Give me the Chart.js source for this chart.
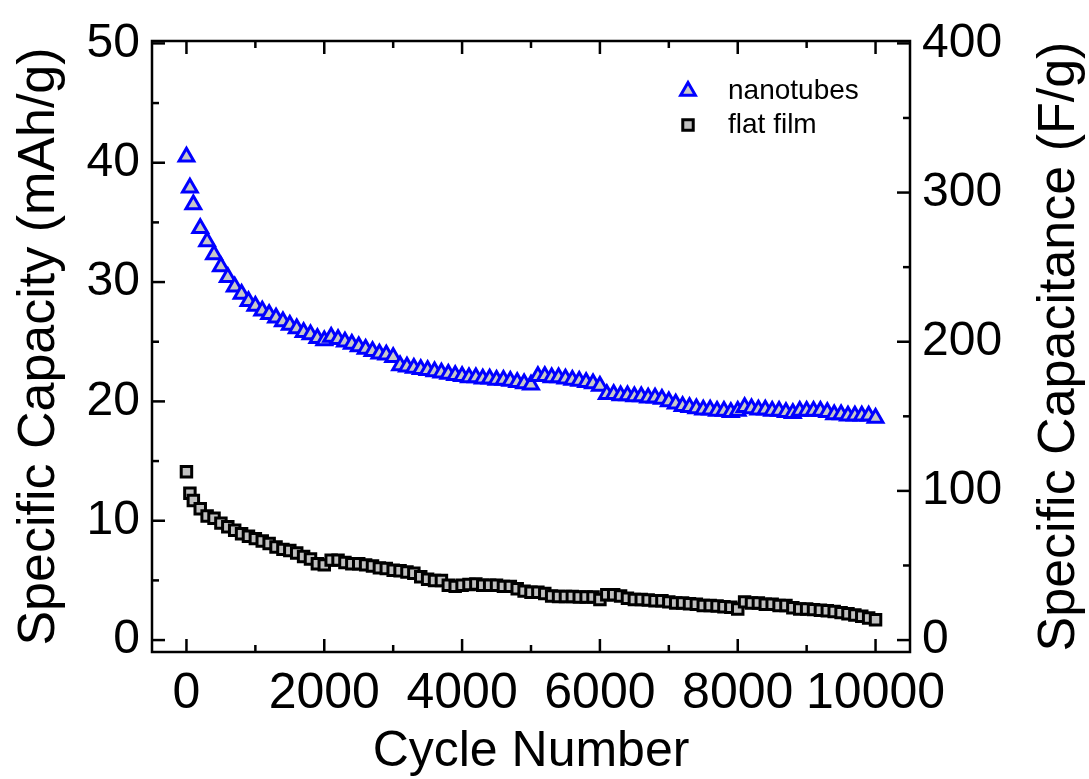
<!DOCTYPE html>
<html>
<head>
<meta charset="utf-8">
<script src="https://cdn.jsdelivr.net/npm/chart.js@4.4.0/dist/chart.umd.min.js"></script>
<style>
  html, body { margin: 0; padding: 0; background: #fff; }
</style>
</head>
<body>
<canvas id="cycleChart" width="1089" height="779"></canvas>
<script>
// cycle life of the two electrodes
var cycles = [0, 50, 100, 200, 300, 400, 500, 600, 700, 800, 900, 1000,
  1100, 1200, 1300, 1400, 1500, 1600, 1700, 1800, 1900, 2000,
  2100, 2200, 2300, 2400, 2500, 2600, 2700, 2800, 2900, 3000,
  3100, 3200, 3300, 3400, 3500, 3600, 3700, 3800, 3900, 4000,
  4100, 4200, 4300, 4400, 4500, 4600, 4700, 4800, 4900, 5000,
  5100, 5200, 5300, 5400, 5500, 5600, 5700, 5800, 5900, 6000,
  6100, 6200, 6300, 6400, 6500, 6600, 6700, 6800, 6900, 7000,
  7100, 7200, 7300, 7400, 7500, 7600, 7700, 7800, 7900, 8000,
  8100, 8200, 8300, 8400, 8500, 8600, 8700, 8800, 8900, 9000,
  9100, 9200, 9300, 9400, 9500, 9600, 9700, 9800, 9900, 10000]

var nanotubes = [40.5, 37.9, 36.5, 34.5, 33.4, 32.3, 31.3, 30.4, 29.6, 29.0, 28.4, 28.0,
  27.6, 27.3, 27.0, 26.7, 26.4, 26.1, 25.8, 25.6, 25.3, 25.1,
  25.4, 25.2, 25.0, 24.8, 24.6, 24.4, 24.2, 24.0, 23.9, 23.7,
  23.0, 22.9, 22.8, 22.7, 22.6, 22.5, 22.4, 22.3, 22.2, 22.1,
  22.0, 22.0, 21.9, 21.9, 21.8, 21.8, 21.7, 21.6, 21.5, 21.4,
  22.1, 22.1, 22.0, 22.0, 21.9, 21.8, 21.7, 21.6, 21.5, 21.3,
  20.6, 20.6, 20.5, 20.5, 20.4, 20.4, 20.3, 20.3, 20.2, 20.0,
  19.8, 19.6, 19.5, 19.4, 19.3, 19.3, 19.2, 19.2, 19.1, 19.2,
  19.5, 19.4, 19.3, 19.3, 19.2, 19.2, 19.1, 19.0, 19.2, 19.2,
  19.2, 19.2, 19.1, 18.9, 18.9, 18.8, 18.8, 18.8, 18.8, 18.6]

var flatFilm = [14.1, 12.3, 11.7, 11.0, 10.4, 10.2, 9.8, 9.5, 9.2, 8.9, 8.7, 8.5,
  8.3, 8.1, 7.8, 7.6, 7.5, 7.3, 7.0, 6.8, 6.4, 6.3,
  6.7, 6.7, 6.5, 6.4, 6.4, 6.3, 6.2, 6.05, 6.0, 5.85,
  5.8, 5.7, 5.6, 5.3, 5.1, 5.0, 5.0, 4.6, 4.5, 4.6,
  4.65, 4.7, 4.6, 4.6, 4.6, 4.5, 4.5, 4.3, 4.1, 4.0,
  4.0, 3.9, 3.7, 3.65, 3.65, 3.65, 3.6, 3.6, 3.6, 3.4,
  3.8, 3.8, 3.7, 3.5, 3.4, 3.4, 3.35, 3.3, 3.3, 3.2,
  3.1, 3.1, 3.05, 3.0, 2.9, 2.9, 2.85, 2.8, 2.75, 2.6,
  3.2, 3.1, 3.1, 3.0, 3.0, 2.9, 2.9, 2.7, 2.6, 2.6,
  2.55, 2.5, 2.45, 2.4, 2.3, 2.2, 2.1, 2.0, 1.85, 1.7]

var cycleTicks = [0, 2000, 4000, 6000, 8000, 10000]
var capacityTicks = [0, 10, 20, 30, 40, 50]
var capacitanceTicks = [0, 100, 200, 300, 400]

var FONT = "'Liberation Sans', Arial, sans-serif"

function toPoints(ys) {
    return cycles.map(function (c, i) { return { x: c, y: ys[i] } })
}

function fixTicks(values) {
    return function (scale) {
        scale.ticks = values.map(function (v) { return { value: v } })
    }
}

function plain(v) { return String(v) }

function line(ctx, x1, y1, x2, y2) {
    ctx.beginPath()
    ctx.moveTo(x1, y1)
    ctx.lineTo(x2, y2)
    ctx.stroke()
}

// box frame with inward ticks, right-hand title and the legend
var frameAndLegend = {
    id: 'frameAndLegend',
    afterDraw: function (chart) {
        var ctx = chart.ctx
        var a = chart.chartArea
        var sx = chart.scales.x, sy = chart.scales.y, sy2 = chart.scales.y2
        ctx.save()
        ctx.strokeStyle = '#000'
        ctx.lineWidth = 2.5
        ctx.strokeRect(a.left, a.top, a.right - a.left, a.bottom - a.top)

        var v, p, len
        for (v = 0; v <= 10000; v += 1000) {
            p = sx.getPixelForValue(v)
            len = v % 2000 === 0 ? 13 : 7
            line(ctx, p, a.bottom, p, a.bottom - len)
            line(ctx, p, a.top, p, a.top + len)
        }
        for (v = 0; v <= 50; v += 5) {
            p = sy.getPixelForValue(v)
            len = v % 10 === 0 ? 13 : 7
            line(ctx, a.left, p, a.left + len, p)
        }
        for (v = 0; v <= 400; v += 50) {
            p = sy2.getPixelForValue(v)
            len = v % 100 === 0 ? 13 : 7
            line(ctx, a.right, p, a.right - len, p)
        }

        ctx.fillStyle = '#000'
        ctx.font = '52px ' + FONT
        ctx.textAlign = 'center'
        ctx.textBaseline = 'middle'
        ctx.save()
        ctx.translate(1060, (a.top + a.bottom) / 2)
        ctx.rotate(-Math.PI / 2)
        ctx.fillText('Specific Capacitance (F/g)', 0, 0)
        ctx.restore()

        // legend entries
        var rows = [[chart.data.datasets[0], 91], [chart.data.datasets[1], 125]]
        ctx.font = '28px ' + FONT
        ctx.textAlign = 'left'
        rows.forEach(function (r) {
            var ds = r[0]
            ctx.fillStyle = ds.backgroundColor
            ctx.strokeStyle = ds.borderColor
            ctx.lineWidth = ds.borderWidth
            Chart.helpers.drawPoint(ctx, { pointStyle: ds.pointStyle, radius: ds.pointRadius, borderWidth: ds.borderWidth }, 688, r[1])
            ctx.fillStyle = '#000'
            ctx.fillText(ds.label, 728, r[1])
        })
        ctx.restore()
    }
}

var ctx = document.getElementById('cycleChart').getContext('2d')

new Chart(ctx, {
    type: 'scatter',
    data: {
        datasets: [{
            label: 'nanotubes',
            data: toPoints(nanotubes),
            pointStyle: 'triangle',
            pointRadius: 8.5,
            borderWidth: 3,
            borderColor: '#0000ff',
            backgroundColor: '#c8c8c8',
            yAxisID: 'y'
        }, {
            label: 'flat film',
            data: toPoints(flatFilm),
            pointStyle: 'rect',
            pointRadius: 7.4,
            borderWidth: 3,
            borderColor: '#000000',
            backgroundColor: '#c0c0c0',
            yAxisID: 'y'
        }]
    },
    options: {
        responsive: false,
        animation: false,
        events: [],
        layout: { padding: { left: 0, right: 0, top: 41, bottom: 0 } },
        plugins: {
            legend: { display: false },
            tooltip: { enabled: false }
        },
        scales: {
            x: {
                type: 'linear',
                min: -500,
                max: 10500,
                afterBuildTicks: fixTicks(cycleTicks),
                afterFit: function (s) { s.height = 127 },
                grid: { display: false, drawTicks: false },
                border: { display: false },
                ticks: { color: '#000', padding: 12, maxRotation: 0, autoSkip: false, callback: plain, font: { family: FONT, size: 50 } },
                title: { display: true, text: 'Cycle Number', color: '#000', padding: 2, font: { family: FONT, size: 50, lineHeight: 1 } }
            },
            y: {
                type: 'linear',
                position: 'left',
                min: -1,
                max: 50.2,
                afterBuildTicks: fixTicks(capacityTicks),
                afterFit: function (s) { s.width = 152 },
                grid: { display: false, drawTicks: false },
                border: { display: false },
                ticks: { color: '#000', padding: 12, autoSkip: false, callback: plain, font: { family: FONT, size: 48 } },
                title: { display: true, text: 'Specific Capacity (mAh/g)', color: '#000', padding: 14, font: { family: FONT, size: 52, lineHeight: 1 } }
            },
            y2: {
                type: 'linear',
                position: 'right',
                min: -8,
                max: 401.6,
                afterBuildTicks: fixTicks(capacitanceTicks),
                afterFit: function (s) { s.width = 179 },
                grid: { display: false, drawTicks: false },
                border: { display: false },
                ticks: { color: '#000', padding: 12, autoSkip: false, callback: plain, font: { family: FONT, size: 48 } }
            }
        }
    },
    plugins: [frameAndLegend]
})
</script>
</body>
</html>
